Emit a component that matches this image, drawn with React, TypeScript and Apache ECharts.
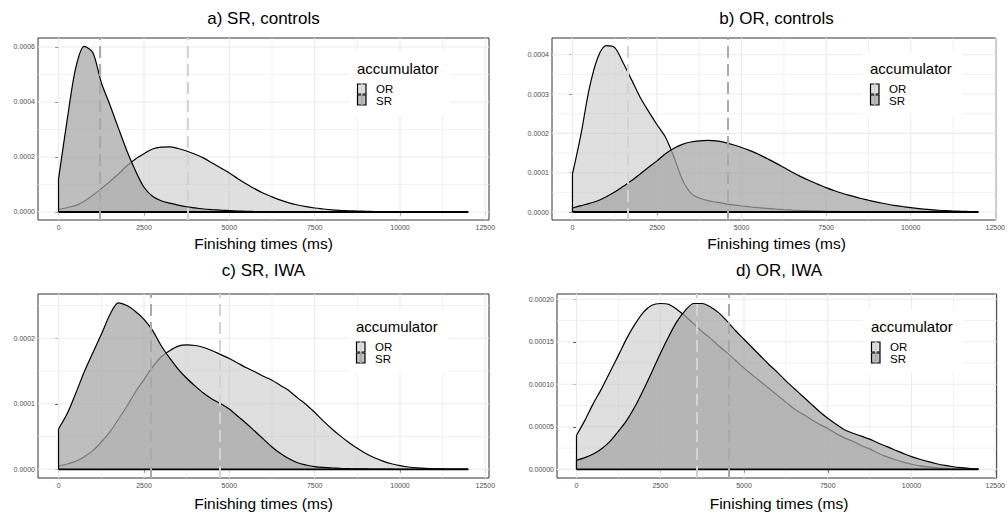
import React, { useEffect, useRef } from "react";
import * as echarts from "echarts";

const FONT = "'Liberation Sans', Arial, Helvetica, sans-serif";

// Finishing times (ms) at which the densities are read
const FINISH_TIMES = [
  0, 250, 500, 750, 1000, 1250, 1500, 1750, 2000, 2250, 2500, 2750, 3000, 3250, 3500, 3750,
  4000, 4250, 4500, 4750, 5000, 5250, 5500, 5750, 6000, 6250, 6500, 6750, 7000, 7250, 7500,
  7750, 8000, 8250, 8500, 8750, 9000, 9250, 9500, 9750, 10000, 10250, 10500, 10750, 11000,
  11250, 11500, 11750, 12000,
];

// a) SR, controls
const A_OR = [
  0.0000085, 0.000016, 0.000024, 0.000039, 0.000061, 0.000085, 0.000111, 0.000138, 0.000168,
  0.000193, 0.000212, 0.000229, 0.000236, 0.000237, 0.000231, 0.000222, 0.00021, 0.000196,
  0.000178, 0.00016, 0.000142, 0.000121, 0.000102, 0.000084, 0.000068, 0.000055, 0.000043,
  0.000033, 0.0000255, 0.0000195, 0.0000145, 0.000011, 0.000008, 0.000006, 0.0000045,
  0.0000033, 0.0000025, 0.0000018, 0.0000012, 0.0000009, 0.0000006, 0.0000004, 0.0000003,
  0.0000002, 0.0000002, 0.0000001, 0.0000001, 0.0000001, 0.0000001,
];
const A_SR = [
  0.000124, 0.000336, 0.000524, 0.000602, 0.00058, 0.00047, 0.00039, 0.000305, 0.000222,
  0.00015, 0.00009, 0.000057, 0.000041, 0.000032, 0.000025, 0.000019, 0.000015, 0.000011,
  0.0000085, 0.0000065, 0.000005, 0.0000037, 0.0000026, 0.0000018, 0.0000012, 0.0000008,
  0.0000005, 0.0000003, 0.0000002, 0.0000001, 0, 0, 0, 0, 0, 0, 0, 0, 0, 0, 0, 0, 0, 0, 0, 0,
  0, 0, 0,
];
const A_MEANS = [3770, 1200]; // [OR, SR]

// b) OR, controls
const B_OR = [
  0.0000966, 0.000197, 0.000315, 0.000393, 0.000423, 0.000418, 0.000379, 0.000336, 0.000292,
  0.000256, 0.000222, 0.00019, 0.00014, 0.000082, 0.000048, 0.0000356, 0.0000288, 0.000025,
  0.0000212, 0.000018, 0.0000153, 0.000013, 0.000011, 0.0000093, 0.0000076, 0.0000062,
  0.000005, 0.0000041, 0.0000034, 0.0000027, 0.000002, 0.0000016, 0.0000012, 0.0000009,
  0.0000007, 0.0000005, 0.0000004, 0.0000003, 0.0000002, 0.0000002, 0.0000001, 0.0000001,
  0.0000001, 0.0000001, 0.0000001, 0.0000001, 0.0000001, 0.0000001, 0.0000001,
];
const B_SR = [
  0.0000102, 0.0000161, 0.000022, 0.0000288, 0.000039, 0.000051, 0.0000653, 0.00008, 0.0000966,
  0.000114, 0.00013, 0.000148, 0.000162, 0.000172, 0.000178, 0.000181, 0.000182, 0.000181,
  0.000177, 0.000171, 0.000164, 0.000156, 0.000147, 0.000136, 0.000125, 0.000113, 0.000101,
  0.00009, 0.00008, 0.000071, 0.000062, 0.000054, 0.000047, 0.000041, 0.000035, 0.00003,
  0.000025, 0.000021, 0.000017, 0.000014, 0.000011, 0.0000085, 0.0000065, 0.000005, 0.0000035,
  0.0000026, 0.0000018, 0.0000012, 0.0000008,
];
const B_MEANS = [1640, 4590];

// c) SR, IWA
const C_OR = [
  0.0000051, 0.0000081, 0.0000122, 0.0000193, 0.0000285, 0.0000417, 0.000057, 0.0000763,
  0.0000962, 0.000118, 0.000137, 0.000156, 0.0001715, 0.000181, 0.000188, 0.00019, 0.000189,
  0.000186, 0.000181, 0.000175, 0.000169, 0.000162, 0.000155, 0.000149, 0.000142, 0.000136,
  0.000128, 0.00012, 0.000109, 0.000099, 0.000087, 0.000074, 0.000062, 0.000051, 0.000041,
  0.000032, 0.000024, 0.0000175, 0.0000125, 0.0000085, 0.0000055, 0.0000035, 0.0000022,
  0.0000013, 0.0000008, 0.0000005, 0.0000003, 0.0000002, 0.0000001,
];
const C_SR = [
  0.000062, 0.000085, 0.000116, 0.000149, 0.000178, 0.000206, 0.000236, 0.000254, 0.00025,
  0.000241, 0.000229, 0.000212, 0.000189, 0.00017, 0.000153, 0.000139, 0.000127, 0.000116,
  0.000107, 0.0001, 0.000092, 0.000081, 0.00007, 0.000058, 0.000046, 0.000034, 0.000024,
  0.000016, 0.00001, 0.0000066, 0.0000041, 0.0000028, 0.000002, 0.0000014, 0.000001,
  0.0000007, 0.0000005, 0.0000003, 0.0000002, 0.0000001, 0, 0, 0, 0, 0, 0, 0, 0, 0,
];
const C_MEANS = [4710, 2700];

// d) OR, IWA
const D_OR = [
  0.00004, 0.0000576, 0.0000773, 0.0000949, 0.0001145, 0.000134, 0.000154, 0.000171, 0.000185,
  0.000193, 0.000195, 0.000194, 0.000188, 0.00018, 0.000171, 0.000162, 0.000154, 0.000145,
  0.000137, 0.000128, 0.000119, 0.000111, 0.000103, 0.000095, 0.000087, 0.000079, 0.000071,
  0.000065, 0.000059, 0.000053, 0.000048, 0.000042, 0.000037, 0.000033, 0.000028, 0.000024,
  0.000019, 0.000015, 0.0000115, 0.0000085, 0.000006, 0.000004, 0.0000028, 0.0000018,
  0.0000011, 0.0000007, 0.0000004, 0.0000002, 0.0000001,
];
const D_SR = [
  0.0000106, 0.0000137, 0.000018, 0.0000243, 0.0000329, 0.0000447, 0.0000576, 0.0000741,
  0.0000937, 0.0001145, 0.000136, 0.000156, 0.000174, 0.000187, 0.000195, 0.000195, 0.000191,
  0.000184, 0.000174, 0.000163, 0.000153, 0.000143, 0.000133, 0.000123, 0.000114, 0.000104,
  0.000095, 0.000086, 0.000077, 0.000068, 0.00006, 0.000053, 0.0000465, 0.0000425, 0.000039,
  0.0000355, 0.000031, 0.000027, 0.0000228, 0.0000188, 0.000015, 0.0000118, 0.000009,
  0.0000066, 0.0000046, 0.000003, 0.0000019, 0.000001, 0.0000005,
];
const D_MEANS = [3575, 4550];

const X_TICKS = [0, 2500, 5000, 7500, 10000, 12500];
const X_MINOR = [1250, 3750, 6250, 8750, 11250];
const A_Y_TICKS = [0, 0.0002, 0.0004, 0.0006];
const A_Y_MINOR = [0.0001, 0.0003, 0.0005];
const B_Y_TICKS = [0, 0.0001, 0.0002, 0.0003, 0.0004];
const B_Y_MINOR = [0.00005, 0.00015, 0.00025, 0.00035];
const C_Y_TICKS = [0, 0.0001, 0.0002];
const C_Y_MINOR = [0.00005, 0.00015, 0.00025];
const D_Y_TICKS = [0, 0.00005, 0.0001, 0.00015, 0.0002];
const D_Y_MINOR = [0.000025, 0.000075, 0.000125, 0.000175];

const LEGEND_TITLE = "accumulator";
const LEVELS = ["OR", "SR"];
const X_TITLE = "Finishing times (ms)";

const OR_FILL = "rgba(191,191,191,0.5)";
const SR_FILL = "rgba(166,166,166,0.73)";
const OR_KEY = "#dfdfdf";
const SR_KEY = "#bdbdbd";
const OR_MEAN = "#D3D3D3";
const SR_MEAN = "#A9A9A9";
const GRID_COL = "#EBEBEB";

const PANELS = [
  {
    title: "a) SR, controls", or: A_OR, sr: A_SR, means: A_MEANS, yTicks: A_Y_TICKS, yMinor: A_Y_MINOR, dec: 4,
    grid: { left: 38, top: 38, width: 451, height: 182 }, xMin: -606, xMax: 12608, yMin: -0.0000291, yMax: 0.0006327,
    titleY: 18, axisTitleY: 243, legend: [349, 52],
  },
  {
    title: "b) OR, controls", or: B_OR, sr: B_SR, means: B_MEANS, yTicks: B_Y_TICKS, yMinor: B_Y_MINOR, dec: 4,
    grid: { left: 552, top: 38, width: 449, height: 182 }, xMin: -605, xMax: 12515, yMin: -0.0000203, yMax: 0.0004425,
    titleY: 18, axisTitleY: 243, legend: [862, 52],
  },
  {
    title: "c) SR, IWA", or: C_OR, sr: C_SR, means: C_MEANS, yTicks: C_Y_TICKS, yMinor: C_Y_MINOR, dec: 4,
    grid: { left: 38, top: 294, width: 451, height: 184 }, xMin: -606, xMax: 12608, yMin: -0.0000133, yMax: 0.0002676,
    titleY: 270, axisTitleY: 503, legend: [348, 310],
  },
  {
    title: "d) OR, IWA", or: D_OR, sr: D_SR, means: D_MEANS, yTicks: D_Y_TICKS, yMinor: D_Y_MINOR, dec: 5,
    grid: { left: 557, top: 294, width: 444, height: 184 }, xMin: -582, xMax: 12542, yMin: -0.0000102, yMax: 0.0002062,
    titleY: 270, axisTitleY: 503, legend: [863, 310],
  },
];

function text(x: number, y: number, s: string, size: number, align: string, color = "#000") {
  return {
    type: "text",
    x,
    y,
    silent: true,
    z: 100,
    style: {
      text: s,
      fill: color,
      fontSize: size,
      fontFamily: FONT,
      align,
      verticalAlign: "middle",
      textAlign: align,
      textVerticalAlign: "middle",
    },
  };
}

function buildOption() {
  const series: any[] = [];
  const graphic: any[] = [];

  PANELS.forEach((p, i) => {
    const gridLine = (data: number[][], width: number) => ({
      type: "line",
      xAxisIndex: i,
      yAxisIndex: i,
      data,
      symbol: "none",
      silent: true,
      z: 0,
      lineStyle: { color: GRID_COL, width },
    });
    X_MINOR.forEach((v) => series.push(gridLine([[v, p.yMin], [v, p.yMax]], 0.7)));
    p.yMinor.forEach((v) => series.push(gridLine([[p.xMin, v], [p.xMax, v]], 0.7)));
    X_TICKS.forEach((v) => series.push(gridLine([[v, p.yMin], [v, p.yMax]], 1.1)));
    p.yTicks.forEach((v) => series.push(gridLine([[p.xMin, v], [p.xMax, v]], 1.1)));

    const mk = (arr: number[], fill: string, z: number) => ({
      type: "line",
      xAxisIndex: i,
      yAxisIndex: i,
      data: FINISH_TIMES.map((t, j) => [t, arr[j]]),
      symbol: "none",
      smooth: 0.3,
      silent: true,
      z,
      lineStyle: { color: "#000", width: 1.2 },
      areaStyle: { color: fill, opacity: 1 },
    });
    series.push(mk(p.or, OR_FILL, 2));
    series.push(mk(p.sr, SR_FILL, 3));

    series.push({
      type: "line",
      xAxisIndex: i,
      yAxisIndex: i,
      data: [
        [FINISH_TIMES[0], 0],
        [FINISH_TIMES[FINISH_TIMES.length - 1], 0],
      ],
      symbol: "none",
      silent: true,
      z: 4,
      lineStyle: { color: "#000", width: 1.8 },
      markLine: {
        silent: true,
        symbol: ["none", "none"],
        label: { show: false },
        z: 5,
        data: [
          [
            { coord: [0, 0], lineStyle: { color: "#000", width: 1.2, type: "solid" } },
            { coord: [0, p.sr[0]] },
          ],
          { xAxis: p.means[0], lineStyle: { color: OR_MEAN, width: 2, type: [12, 6] } },
          { xAxis: p.means[1], lineStyle: { color: SR_MEAN, width: 2, type: [12, 6] } },
        ],
      },
    });
    // OR's left edge sits under the SR fill
    series.push({
      type: "line",
      xAxisIndex: i,
      yAxisIndex: i,
      data: [
        [0, 0],
        [0, p.or[0]],
      ],
      symbol: "none",
      silent: true,
      z: 2,
      lineStyle: { color: "#000", width: 1.2 },
    });

    const cx = p.grid.left + p.grid.width / 2;
    graphic.push(text(cx, p.titleY, p.title, 17, "center"));
    graphic.push(text(cx, p.axisTitleY, X_TITLE, 15.5, "center"));

    const [bx, by] = p.legend;
    graphic.push({ type: "rect", silent: true, z: 90, shape: { x: bx, y: by, width: 101, height: 63 }, style: { fill: "#fff" } });
    graphic.push(text(bx + 8, by + 16, LEGEND_TITLE, 15, "left"));
    const keyFill = [OR_KEY, SR_KEY];
    const keyLine = [OR_MEAN, SR_MEAN];
    LEVELS.forEach((lv, k) => {
      const ky = by + 32 + k * 11;
      graphic.push({
        type: "rect",
        silent: true,
        z: 95,
        shape: { x: bx + 8.5, y: ky, width: 8.5, height: 10 },
        style: { fill: keyFill[k], stroke: "#000", lineWidth: 1.2 },
      });
      graphic.push({
        type: "line",
        silent: true,
        z: 96,
        shape: { x1: bx + 12.75, y1: ky - 0.6, x2: bx + 12.75, y2: ky + 10.6 },
        style: { stroke: keyLine[k], lineWidth: 1.6 },
      });
      graphic.push(text(bx + 27, by + 37 + k * 12, lv, 11.5, "left"));
    });
  });

  return {
    animation: false,
    backgroundColor: "#fff",
    textStyle: { fontFamily: FONT },
    grid: PANELS.map((p) => ({ ...p.grid, show: true, borderColor: "#333333", borderWidth: 1, containLabel: false })),
    xAxis: PANELS.map((p, i) => ({
      type: "value",
      gridIndex: i,
      min: p.xMin,
      max: p.xMax,
      axisLine: { show: false },
      splitLine: { show: false },
      axisTick: { show: true, customValues: X_TICKS, length: 3.5, lineStyle: { color: "#333", width: 1 } },
      axisLabel: {
        show: true,
        customValues: X_TICKS,
        fontSize: 7,
        color: "#4D4D4D",
        margin: 4,
        fontFamily: FONT,
        formatter: (v: number) => String(v),
      },
    })),
    yAxis: PANELS.map((p, i) => ({
      type: "value",
      gridIndex: i,
      min: p.yMin,
      max: p.yMax,
      axisLine: { show: false },
      splitLine: { show: false },
      axisTick: { show: true, customValues: p.yTicks, length: 3.5, lineStyle: { color: "#333", width: 1 } },
      axisLabel: {
        show: true,
        customValues: p.yTicks,
        fontSize: 7,
        color: "#4D4D4D",
        margin: 3,
        fontFamily: FONT,
        formatter: (v: number) => v.toFixed(p.dec),
      },
    })),
    series,
    graphic,
  };
}

export default function App() {
  const ref = useRef<HTMLDivElement>(null);
  useEffect(() => {
    if (!ref.current) return;
    const chart = echarts.init(ref.current, undefined, { renderer: "svg" });
    chart.setOption(buildOption() as any);
    return () => chart.dispose();
  }, []);
  return (
    <div
      ref={ref}
      style={{ position: "fixed", left: 0, top: 0, width: 1008, height: 513, background: "#fff" }}
    />
  );
}
